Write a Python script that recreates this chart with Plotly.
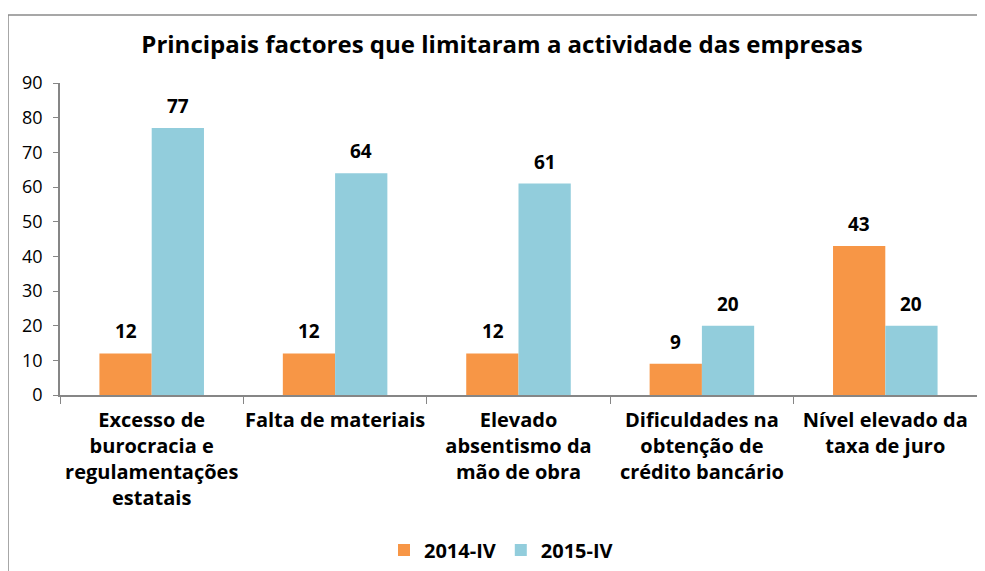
import plotly.graph_objects as go

categories = [
    "Excesso de<br>burocracia e<br>regulamentações<br>estatais",
    "Falta de materiais",
    "Elevado<br>absentismo da<br>mão de obra",
    "Dificuldades na<br>obtenção de<br>crédito bancário",
    "Nível elevado da<br>taxa de juro",
]
series_2014 = [12, 12, 12, 9, 43]
series_2015 = [77, 64, 61, 20, 20]
series_names = ["2014-IV", "2015-IV"]
colors = ["#F79646", "#92CDDC"]
y_ticks = [0, 10, 20, 30, 40, 50, 60, 70, 80, 90]

FONT = "Open Sans"
W, H = 985, 571
# the page adds an 8px body margin, so figure coords = window coords - 8
L, R, T, B = 52, W - 969, 75, H - 387
PW, PH = W - L - R, H - T - B

fig = go.Figure()
fig.add_trace(go.Bar(x=categories, y=series_2014, name="<b>" + series_names[0] + "</b>",
                     marker=dict(color=colors[0], line=dict(width=0))))
fig.add_trace(go.Bar(x=categories, y=series_2015, name="<b>" + series_names[1] + "</b>",
                     marker=dict(color=colors[1], line=dict(width=0))))

annotations = []
for vals, shift in ((series_2014, -26), (series_2015, 26)):
    for c, v in zip(categories, vals):
        annotations.append(dict(x=c, y=v, text="<b>" + str(v) + "</b>", showarrow=False,
                                xref="x", yref="y", xshift=shift, yshift=22,
                                font=dict(family=FONT, size=19, color="#000000")))

fig.update_layout(
    width=W, height=H,
    paper_bgcolor="white", plot_bgcolor="white",
    margin=dict(l=L, r=R, t=T, b=B, autoexpand=False),
    barmode="group", bargap=0.43, bargroupgap=0,
    title=dict(text="<b>Principais factores que limitaram a actividade das empresas</b>",
               x=(502 - 8) / W, xref="container", xanchor="center", y=1 - (45 - 8) / H,
               yref="container", yanchor="middle",
               font=dict(family=FONT, size=24, color="#000000")),
    font=dict(family=FONT, color="#000000"),
    showlegend=True,
    legend=dict(orientation="h", x=(501 - 8 - L) / PW, xanchor="center",
                y=-(550 - 395) / PH, yanchor="middle",
                font=dict(family=FONT, size=20, color="#000000"),
                traceorder="normal", itemwidth=30),
    annotations=annotations,
    shapes=[dict(type="rect", xref="paper", yref="paper", x0=(0 - L) / PW, x1=1.2,
                 y0=-1.0, y1=(387 - 7) / PH, line=dict(color="#8A8A8A", width=1.5),
                 fillcolor="rgba(0,0,0,0)", layer="below")],
)
fig.update_xaxes(showline=True, linecolor="#868686", linewidth=1.5, ticks="outside",
                 tickson="boundaries", ticklen=7, tickcolor="#868686", showgrid=False,
                 automargin=False, ticklabelstandoff=6,
                 tickfont=dict(family=FONT, size=20, color="#000000"), tickangle=0,
                 tickvals=categories,
                 ticktext=["<b>" + c.replace("<br>", "</b><br><b>") + "</b>" for c in categories])
fig.update_yaxes(range=[0, 90], tickvals=y_ticks, showline=True, linecolor="#868686",
                 linewidth=1.5, ticks="outside", ticklen=5, tickcolor="#868686", showgrid=False,
                 zeroline=False, automargin=False, ticklabelstandoff=7,
                 tickfont=dict(family=FONT, size=18, color="#000000"))

fig.write_html("out.html")
